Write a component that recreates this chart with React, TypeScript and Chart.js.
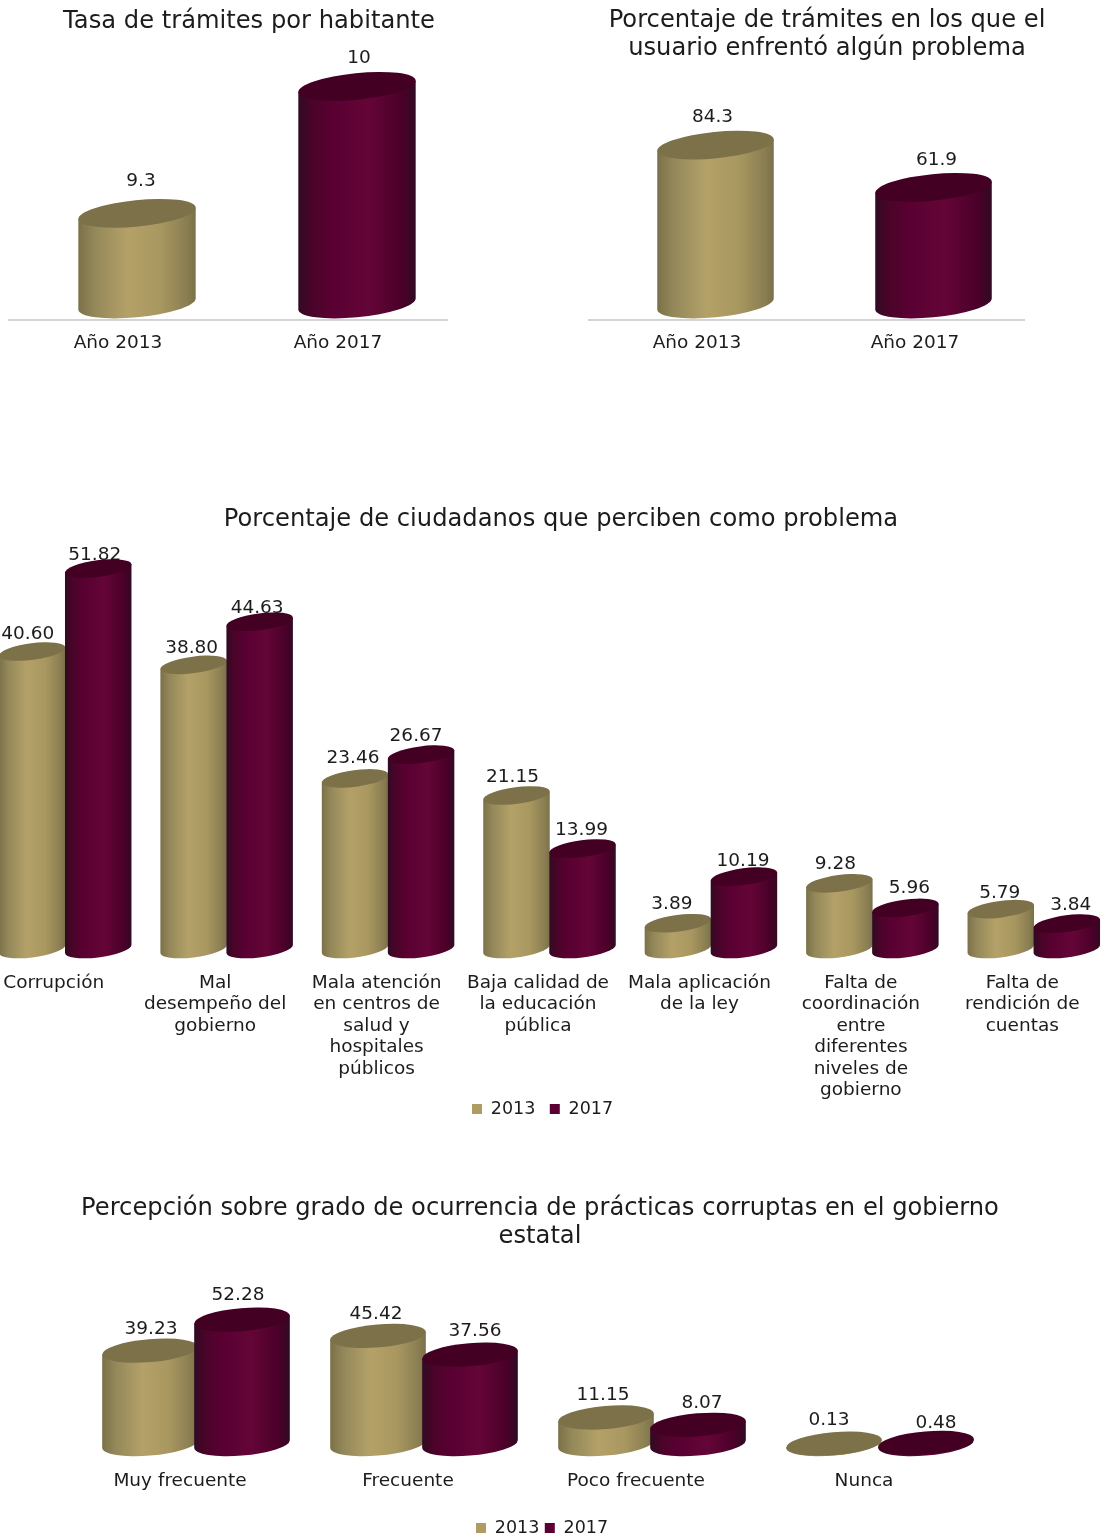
import React, { useEffect, useRef } from "react";
import { Chart, registerables } from "chart.js";

Chart.register(...registerables);

// ---------- data ----------
const yearLabels = ["Año 2013", "Año 2017"];
const tasaValues = [9.3, 10];
const problemaValues = [84.3, 61.9];

const percibenCategories = [
  ["Corrupción"],
  ["Mal", "desempeño del", "gobierno"],
  ["Mala atención", "en centros de", "salud y", "hospitales", "públicos"],
  ["Baja calidad de", "la educación", "pública"],
  ["Mala aplicación", "de la ley"],
  ["Falta de", "coordinación", "entre", "diferentes", "niveles de", "gobierno"],
  ["Falta de", "rendición de", "cuentas"],
];
const percibenText2013 = ["40.60", "38.80", "23.46", "21.15", "3.89", "9.28", "5.79"];
const percibenText2017 = ["51.82", "44.63", "26.67", "13.99", "10.19", "5.96", "3.84"];
const percibenValues2013 = percibenText2013.map(Number);
const percibenValues2017 = percibenText2017.map(Number);

const frecuenciaCategories = ["Muy frecuente", "Frecuente", "Poco frecuente", "Nunca"];
const frecuenciaText2013 = ["39.23", "45.42", "11.15", "0.13"];
const frecuenciaText2017 = ["52.28", "37.56", "8.07", "0.48"];
const frecuenciaValues2013 = frecuenciaText2013.map(Number);
const frecuenciaValues2017 = frecuenciaText2017.map(Number);

// ---------- style ----------
const FONT = "'DejaVu Sans', sans-serif";
const TITLE_SIZE = 24.2;
const TEXT_SIZE = 18.5;
const LEGEND_SIZE = 17.5;
const TEXT = "#1c1c1c";
const TAN = "#ae9c63";
const MAROON = "#5c0033";
const SHADES: Record<string, { stops: [number, string][]; top: string }> = {
  [TAN]: {
    stops: [[0, "#7a7048"], [0.14, "#94885a"], [0.42, "#b3a168"], [0.7, "#a8975f"], [0.92, "#8a7e52"], [1, "#7a7048"]],
    top: "#7d7149",
  },
  [MAROON]: {
    stops: [[0, "#300a22"], [0.12, "#4a0429"], [0.3, "#5a0032"], [0.6, "#640537"], [0.88, "#4a0029"], [1, "#300a22"]],
    top: "#430022",
  },
};

type Panel = {
  left: number; top: number; width: number; height: number;
  padding: { left: number; right: number };
  titleLines: string[]; titleCenterX: number; titlePad: { top: number; bottom: number };
  xHeight: number; tickPad: number; axisLine: boolean;
  yMin: number; yMax: number; base: number;
  labels: any[]; datasets: any[];
  catPct: number; barPct: number;
  shift: number; ry: number; rot: number;
  legend?: { padding: number; left: number; centerY: number };
  texts: string[][];
  nudges: [number, number][][];
};

const panels: Panel[] = [
  {
    left: 8, top: 0, width: 440, height: 362, padding: { left: 0, right: 0 },
    titleLines: ["Tasa de trámites por habitante"], titleCenterX: 249, titlePad: { top: 8, bottom: 4 },
    xHeight: 42, tickPad: 12, axisLine: true,
    yMin: 8.712, yMax: 10.255, base: 8.8,
    labels: yearLabels,
    datasets: [{ label: "Tasa", data: tasaValues, backgroundColor: [TAN, MAROON] }],
    catPct: 0.536, barPct: 1, shift: 19, ry: 13.2, rot: -0.1,
    texts: [["9.3", "10"]],
    nudges: [[[4, 18], [2, 14]]],
  },
  {
    left: 588, top: 0, width: 470, height: 362, padding: { left: 0, right: 34 },
    titleLines: ["Porcentaje de trámites en los que el", "usuario enfrentó algún problema"], titleCenterX: 827, titlePad: { top: 7, bottom: 0 },
    xHeight: 42, tickPad: 12, axisLine: true,
    yMin: -8.484, yMax: 127.8, base: 0,
    labels: yearLabels,
    datasets: [{ label: "Problema", data: problemaValues, backgroundColor: [TAN, MAROON] }],
    catPct: 0.537, barPct: 1, shift: 18.5, ry: 13.2, rot: -0.1,
    texts: [["84.3", "61.9"]],
    nudges: [[[-3, 13], [3, 13]]],
  },
  {
    left: -27, top: 505, width: 1130, height: 645, padding: { left: 0, right: 0 },
    titleLines: ["Porcentaje de ciudadanos que perciben como problema"], titleCenterX: 561, titlePad: { top: 1, bottom: 1 },
    xHeight: 150, tickPad: 14, axisLine: false,
    yMin: -0.81, yMax: 56.35, base: 0.4,
    labels: percibenCategories,
    datasets: [
      { label: "2013", data: percibenValues2013, backgroundColor: TAN },
      { label: "2017", data: percibenValues2017, backgroundColor: MAROON },
    ],
    catPct: 0.818, barPct: 1.015, shift: 11.5, ry: 8.3, rot: -0.13,
    legend: { padding: 14.5, left: 472, centerY: 1109 },
    texts: [percibenText2013, percibenText2017],
    nudges: [
      [[-4.5, 8], [-2, 7], [-2, 11], [-4, 8.5], [-6, 10], [-4, 10], [-1, 7]],
      [[-3.5, 4], [-2.5, 4], [-5, 9], [-1, 9], [-1, 6], [4, 10], [4, 9]],
    ],
  },
  {
    left: 40, top: 1193, width: 1000, height: 348, padding: { left: 26, right: 62 },
    titleLines: ["Percepción sobre grado de ocurrencia de prácticas corruptas en el gobierno", "estatal"],
    titleCenterX: 540, titlePad: { top: 2, bottom: 0 },
    xHeight: 52, tickPad: 14, axisLine: false,
    yMin: -5.04, yMax: 81.1, base: 0,
    labels: frecuenciaCategories,
    datasets: [
      { label: "2013", data: frecuenciaValues2013, backgroundColor: TAN },
      { label: "2017", data: frecuenciaValues2017, backgroundColor: MAROON },
    ],
    catPct: 0.807, barPct: 1.043, shift: 16, ry: 11.5, rot: -0.085,
    legend: { padding: 5.5, left: 476, centerY: 1528 },
    texts: [frecuenciaText2013, frecuenciaText2017],
    nudges: [
      [[1, 9], [-2, 9.5], [-3, 10], [-5, 11.5]],
      [[-4, 12], [5, 11], [4, 9.4], [10, 7.5]],
    ],
  },
];

function drawCylinder(ctx: CanvasRenderingContext2D, p: Panel, el: any, color: string) {
  const shade = SHADES[color];
  const cx = el.x + p.shift;
  const w = el.width;
  const rx = w / 2;
  const { ry, rot } = p;
  const t0 = Math.atan((-ry / rx) * Math.tan(rot));
  const px = (t: number, cy: number) => [
    cx + rx * Math.cos(t) * Math.cos(rot) - ry * Math.sin(t) * Math.sin(rot),
    cy + rx * Math.cos(t) * Math.sin(rot) + ry * Math.sin(t) * Math.cos(rot),
  ];
  const grad = ctx.createLinearGradient(cx - rx, 0, cx + rx, 0);
  shade.stops.forEach(([o, c]) => grad.addColorStop(o, c));
  const [rtx, rty] = px(t0, el.y);
  const [ltx, lty] = px(t0 + Math.PI, el.y);
  const [rbx, rby] = px(t0, el.base);
  ctx.save();
  ctx.fillStyle = grad;
  ctx.beginPath();
  ctx.moveTo(rtx, rty);
  ctx.lineTo(rbx, rby);
  ctx.ellipse(cx, el.base, rx, ry, rot, t0, t0 + Math.PI, false);
  ctx.lineTo(ltx, lty);
  ctx.closePath();
  ctx.fill();
  ctx.fillStyle = shade.top;
  ctx.beginPath();
  ctx.ellipse(cx, el.y, rx, ry, rot, 0, Math.PI * 2);
  ctx.fill();
  ctx.restore();
}

function makeChart(canvas: HTMLCanvasElement, p: Panel) {
  const halfHeight = (el: any) => {
    const rx = el.width / 2;
    return Math.sqrt(rx * rx * Math.sin(p.rot) ** 2 + p.ry * p.ry * Math.cos(p.rot) ** 2);
  };
  const plugin = {
    id: "cylinders",
    afterLayout(chart: any) {
      const title = chart.titleBlock;
      if (title) {
        const c = p.titleCenterX - p.left;
        title.left = c - 700;
        title.right = c + 700;
      }
      if (p.legend && chart.legend) {
        const lg = chart.legend;
        const w = lg.lineWidths[0];
        const start = p.legend.left - p.left;
        lg.left = start - p.legend.padding;
        lg.right = lg.left + p.legend.padding + w;
        lg.top = p.legend.centerY - p.top - p.legend.padding - LEGEND_SIZE / 2;
      }
    },
    beforeDatasetsDraw(chart: any) {
      const ctx = chart.ctx;
      // data labels sit behind the cylinders, as in the reference
      ctx.save();
      ctx.font = `400 ${TEXT_SIZE}px ${FONT}`;
      ctx.fillStyle = TEXT;
      ctx.textAlign = "center";
      ctx.textBaseline = "middle";
      chart.data.datasets.forEach((_: any, i: number) => {
        chart.getDatasetMeta(i).data.forEach((el: any, j: number) => {
          const [dx, dy] = p.nudges[i][j];
          ctx.fillText(p.texts[i][j], el.x + p.shift + dx, el.y - halfHeight(el) - dy);
        });
      });
      ctx.restore();
      // first series first, so the second one overlaps it
      chart.data.datasets.forEach((d: any, i: number) => {
        chart.getDatasetMeta(i).data.forEach((el: any, j: number) => {
          const bg = d.backgroundColor;
          drawCylinder(ctx, p, el, Array.isArray(bg) ? bg[j] : bg);
        });
      });
    },
    beforeDatasetDraw() {
      return false;
    },
  };
  return new Chart(canvas, {
    type: "bar",
    data: {
      labels: p.labels,
      datasets: p.datasets.map((d) => ({ ...d, base: p.base, categoryPercentage: p.catPct, barPercentage: p.barPct })),
    },
    plugins: [plugin],
    options: {
      responsive: false,
      animation: false,
      layout: { padding: { left: p.padding.left, right: p.padding.right, top: 0, bottom: 0 } },
      plugins: {
        tooltip: { enabled: false },
        title: {
          display: true,
          text: p.titleLines,
          color: TEXT,
          font: { family: FONT, size: TITLE_SIZE, weight: "400", lineHeight: 28 / TITLE_SIZE },
          padding: p.titlePad,
        },
        legend: p.legend
          ? {
              display: true,
              position: "bottom",
              labels: {
                boxWidth: 10,
                boxHeight: 10,
                padding: p.legend.padding,
                color: TEXT,
                font: { family: FONT, size: LEGEND_SIZE, weight: "400" },
              },
            }
          : { display: false },
      },
      scales: {
        x: {
          grid: { display: false, drawTicks: false },
          border: { display: p.axisLine, color: "#d4d4d4", width: 2 },
          afterFit(scale: any) {
            scale.height = p.xHeight;
          },
          ticks: {
            autoSkip: false,
            maxRotation: 0,
            minRotation: 0,
            padding: p.tickPad,
            color: TEXT,
            font: { family: FONT, size: TEXT_SIZE, weight: "400", lineHeight: 21.5 / TEXT_SIZE },
          },
        },
        y: { display: false, min: p.yMin, max: p.yMax },
      },
    } as any,
  });
}

function PanelChart({ panel }: { panel: Panel }) {
  const ref = useRef<HTMLCanvasElement>(null);
  useEffect(() => {
    const chart = makeChart(ref.current!, panel);
    return () => chart.destroy();
  }, [panel]);
  return (
    <canvas
      ref={ref}
      width={panel.width}
      height={panel.height}
      style={{ position: "absolute", left: panel.left, top: panel.top, width: panel.width, height: panel.height }}
    />
  );
}

export default function App() {
  return (
    <div style={{ position: "absolute", left: 0, top: 0, width: 1102, height: 1539, overflow: "hidden", background: "#fff" }}>
      {panels.map((p, i) => (
        <PanelChart key={i} panel={p} />
      ))}
    </div>
  );
}
